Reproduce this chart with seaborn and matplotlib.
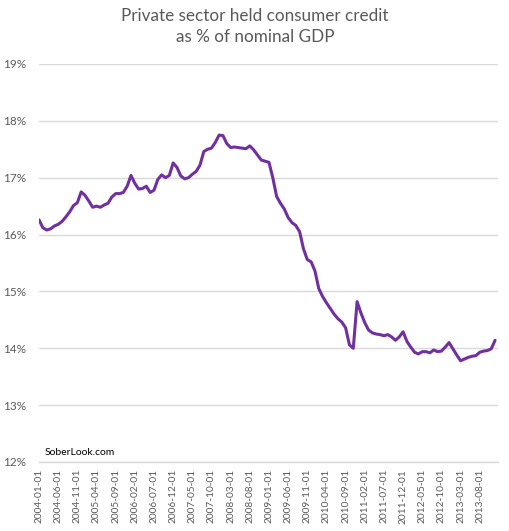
import numpy as np
import pandas as pd
import seaborn as sns
import matplotlib.pyplot as plt
from matplotlib.ticker import FuncFormatter

sns.set_theme(style="white")
plt.rcParams["font.family"] = ["Lato", "DejaVu Sans"]

# monthly observations, 2004-01 .. 2013-12
months = pd.date_range("2004-01-01", periods=120, freq="MS").strftime("%Y-%m-%d").tolist()

credit_pct = [
    16.26, 16.12, 16.08, 16.10, 16.15, 16.18, 16.23, 16.31, 16.40, 16.51,
    16.56, 16.75, 16.69, 16.59, 16.48, 16.50, 16.48, 16.52, 16.55, 16.66,
    16.72, 16.72, 16.74, 16.85, 17.04, 16.90, 16.80, 16.81, 16.85, 16.74,
    16.78, 16.97, 17.05, 17.00, 17.04, 17.26, 17.18, 17.03, 16.98, 17.00,
    17.06, 17.11, 17.22, 17.46, 17.50, 17.52, 17.62, 17.75, 17.74, 17.60,
    17.53, 17.54, 17.53, 17.52, 17.51, 17.56, 17.49, 17.40, 17.31, 17.29,
    17.27, 17.00, 16.67, 16.55, 16.45, 16.30, 16.21, 16.16, 16.05, 15.75,
    15.56, 15.52, 15.36, 15.05, 14.91, 14.80, 14.70, 14.60, 14.52, 14.46,
    14.36, 14.06, 14.00, 14.82, 14.62, 14.45, 14.32, 14.27, 14.25, 14.24,
    14.22, 14.24, 14.20, 14.14, 14.20, 14.29, 14.12, 14.02, 13.93, 13.90,
    13.94, 13.94, 13.92, 13.97, 13.94, 13.95, 14.02, 14.10, 13.99, 13.88,
    13.78, 13.81, 13.84, 13.86, 13.87, 13.93, 13.95, 13.96, 13.99, 14.14,
]

df = pd.DataFrame({"pos": np.arange(len(months)), "month": months, "credit": credit_pct})

TEXT = "#595959"
GRID = "#D9D9D9"

fig = plt.figure(figsize=(5.10, 5.31), dpi=100)
ax = fig.add_axes([0.0765, 0.130, 0.8995, 0.7495])

sns.lineplot(data=df, x="pos", y="credit", color="#7030A0", linewidth=2.2, ax=ax)

ax.set_xlim(0, 119.7)
ax.set_ylim(12, 19)
ax.set_yticks(range(12, 20))
ax.yaxis.set_major_formatter(FuncFormatter(lambda v, _: f"{v:.0f}%"))
ax.grid(axis="y", color=GRID, linewidth=1)
ax.set_axisbelow(True)

tick_pos = df["pos"][::5]
ax.set_xticks(tick_pos)
ax.set_xticklabels(df["month"][::5], rotation=90)

for side in ["top", "right", "left"]:
    ax.spines[side].set_visible(False)
ax.spines["bottom"].set_color(GRID)
ax.spines["bottom"].set_linewidth(1)

ax.tick_params(axis="y", length=0, pad=9, labelsize=8.5, labelcolor=TEXT)
ax.tick_params(axis="x", length=4, width=1, color=GRID, direction="inout",
               pad=3, labelsize=7.3, labelcolor=TEXT)
ax.set_xlabel("")
ax.set_ylabel("")

fig.text(0.5, 0.985, "Private sector held consumer credit\nas % of nominal GDP",
         ha="center", va="top", fontsize=12.3, color=TEXT, linespacing=1.4)
fig.text(0.088, 0.147, "SoberLook.com", ha="left", va="center", fontsize=7.5, color="black")

fig.savefig("out.png", dpi=100)
plt.close(fig)
